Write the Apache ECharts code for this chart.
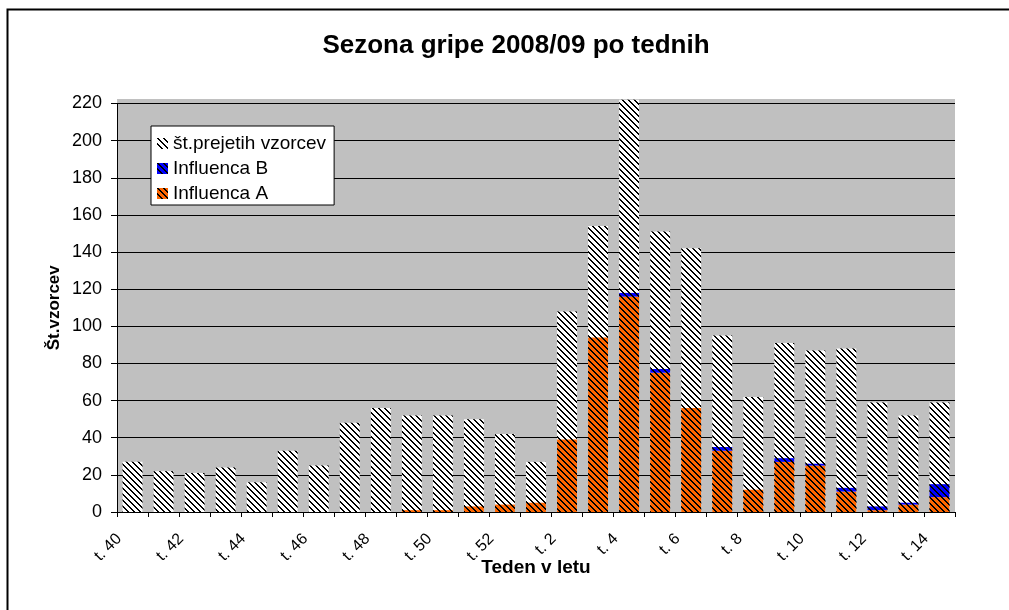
<!DOCTYPE html>
<html>
<head>
<meta charset="utf-8">
<script src="https://cdn.jsdelivr.net/npm/echarts@6/dist/echarts.min.js"></script>
<style>
  html, body { margin: 0; padding: 0; background: #fff; }
  #chart { width: 1009px; height: 610px; }
</style>
</head>
<body>
<div id="chart"></div>
<script>
// tedni sezone 2008/09
let weeks = ['t. 40','t. 41','t. 42','t. 43','t. 44','t. 45','t. 46','t. 47','t. 48','t. 49','t. 50','t. 51','t. 52',
             't. 1','t. 2','t. 3','t. 4','t. 5','t. 6','t. 7','t. 8','t. 9','t. 10','t. 11','t. 12','t. 13','t. 14'];
let samples = [27,22,21,24,16,33,25,48,56,52,52,50,42,27,108,154,222,151,142,95,62,91,87,88,59,52,59];
let fluA = [0,0,0,0,0,0,0,0,0,1,1,3,4,5,39,94,116,75,56,33,12,27,25,11,1,4,8];
let fluB = [0,0,0,0,0,0,0,0,0,0,0,0,0,0,0,0,2,2,0,2,0,2,1,2,2,1,7];
let yTicks = { min: 0, max: 220, step: 20 };

var fluChart = echarts.init(document.getElementById('chart'));

// diagonalni vzorec "\\" (kot v Excelu), narisan piksel po piksel
function hatch(bg) {
    var size = 6;
    var cv = document.createElement('canvas');
    cv.width = size;
    cv.height = size;
    var ctx = cv.getContext('2d');
    ctx.fillStyle = bg;
    ctx.fillRect(0, 0, size, size);
    ctx.fillStyle = '#000';
    for (var y = 0; y < size; y++) {
        for (var x = 0; x < size; x++) {
            var d = ((x - y) % size + size) % size;
            if (d < 2) ctx.fillRect(x, y, 1, 1);
        }
    }
    return { image: cv, repeat: 'repeat' };
}

var font = 'Liberation Sans, Arial, sans-serif';

option = {
    backgroundColor: '#fff',
    animation: false,
    textStyle: { fontFamily: font, color: '#000' },
    title: {
        text: 'Sezona gripe 2008/09 po tednih',
        left: 511,
        textAlign: 'center',
        top: 28,
        textStyle: { fontSize: 26, fontWeight: 'bold', color: '#000', fontFamily: font }
    },
    graphic: [
        {
            type: 'rect', z: -10, silent: true,
            shape: { x: 117, y: 99, width: 838, height: 413 },
            style: { fill: '#C0C0C0' }
        },
        {
            type: 'rect', z: 100, silent: true,
            shape: { x: 7.5, y: 9.5, width: 1020, height: 620 },
            style: { fill: 'none', stroke: '#000', lineWidth: 2 }
        }
    ],
    legend: {
        orient: 'vertical',
        left: 151,
        top: 126,
        data: ['št.prejetih vzorcev', 'Influenca B', 'Influenca A'],
        icon: 'rect',
        backgroundColor: '#fff',
        borderColor: '#000',
        borderWidth: 1,
        padding: [8, 8, 2, 6],
        itemGap: 6,
        itemWidth: 11,
        itemHeight: 11,
        textStyle: { fontSize: 19, color: '#000', fontFamily: font }
    },
    grid: {
        left: 117,
        right: 54,
        top: 103.5,
        bottom: 98,
        containLabel: false
    },
    xAxis: {
        type: 'category',
        data: weeks,
        name: 'Teden v letu',
        nameLocation: 'middle',
        nameGap: 46,
        nameMoveOverlap: false,
        nameTextStyle: { fontSize: 19, fontWeight: 'bold', color: '#000' },
        axisLine: { lineStyle: { color: '#000', width: 1 } },
        axisTick: { show: true, interval: 0, length: 5, lineStyle: { color: '#000' } },
        axisLabel: { interval: 1, rotate: 45, fontSize: 16, color: '#000', margin: 11, padding: [0, 19, 0, 0] }
    },
    yAxis: {
        type: 'value',
        min: yTicks.min,
        max: yTicks.max,
        interval: yTicks.step,
        name: 'Št.vzorcev',
        nameLocation: 'middle',
        nameGap: 54,
        nameMoveOverlap: false,
        nameTextStyle: { fontSize: 17, fontWeight: 'bold', color: '#000' },
        axisLine: { show: true, lineStyle: { color: '#000', width: 1 } },
        axisTick: { show: true, length: 6, lineStyle: { color: '#000' } },
        axisLabel: { fontSize: 18, color: '#000', margin: 15 },
        splitLine: { lineStyle: { color: '#000', width: 1 } }
    },
    series: [
        {
            name: 'št.prejetih vzorcev',
            type: 'bar',
            data: samples,
            clip: false,
            barGap: '-100%',
            barCategoryGap: '36%',
            itemStyle: { color: hatch('#FFFFFF') }
        },
        {
            name: 'Influenca A',
            type: 'bar',
            stack: 'flu',
            data: fluA,
            barGap: '-100%',
            barCategoryGap: '36%',
            itemStyle: { color: hatch('#FF6600') }
        },
        {
            name: 'Influenca B',
            type: 'bar',
            stack: 'flu',
            data: fluB,
            barGap: '-100%',
            barCategoryGap: '36%',
            itemStyle: { color: hatch('#0000FF') }
        }
    ]
};

fluChart.setOption(option);
</script>
</body>
</html>
